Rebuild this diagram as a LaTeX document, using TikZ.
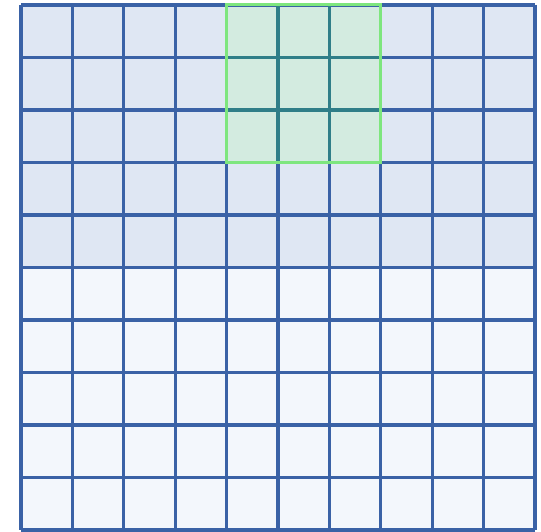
\documentclass[tikz,border=0pt]{standalone}
\definecolor{gridblue}{HTML}{3A62A6}
\definecolor{topfill}{HTML}{DFE7F3}
\definecolor{botfill}{HTML}{F3F7FC}
\definecolor{greenfill}{HTML}{D3EBE0}
\definecolor{tealline}{HTML}{2F7E88}
\definecolor{greenedge}{HTML}{7EE67E}
\begin{document}
\begin{tikzpicture}[x=1pt,y=-1pt,
  gridline/.style={draw=gridblue,line width=3.2pt},
  innerline/.style={draw=tealline,line width=3.2pt},
  focus/.style={draw=greenedge,line width=3pt}]
\useasboundingbox (0,0) rectangle (541,532);
\def\xo{21}\def\yo{5}\def\cw{51.4}\def\ch{52.5}
\fill[topfill] (\xo,\yo) rectangle ({\xo+10*\cw},{\yo+5*\ch});
\fill[botfill] (\xo,{\yo+5*\ch}) rectangle ({\xo+10*\cw},{\yo+10*\ch});
\fill[greenfill] ({\xo+4*\cw},\yo) rectangle ({\xo+7*\cw},{\yo+3*\ch});
\foreach \i in {0,...,10} {
  \draw[gridline] ({\xo+\i*\cw},\yo) -- ({\xo+\i*\cw},{\yo+10*\ch});
  \draw[gridline] (\xo,{\yo+\i*\ch}) -- ({\xo+10*\cw},{\yo+\i*\ch});
}
\foreach \i in {5,6} {
  \draw[innerline] ({\xo+\i*\cw},\yo) -- ({\xo+\i*\cw},{\yo+3*\ch});
}
\foreach \i in {1,2} {
  \draw[innerline] ({\xo+4*\cw},{\yo+\i*\ch}) -- ({\xo+7*\cw},{\yo+\i*\ch});
}
\draw[focus] ({\xo+4*\cw},\yo) rectangle ({\xo+7*\cw},{\yo+3*\ch});
\end{tikzpicture}
\end{document}
